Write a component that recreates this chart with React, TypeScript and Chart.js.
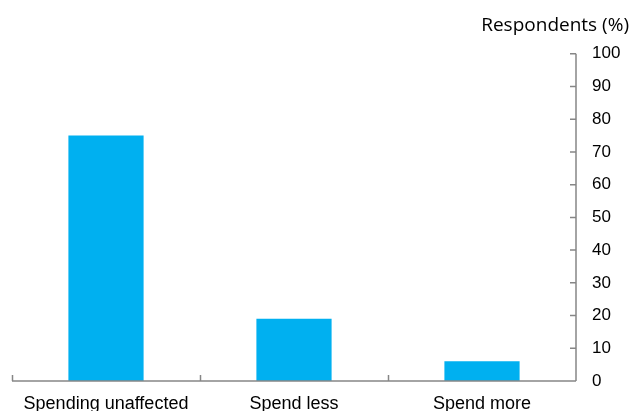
import React, { useEffect, useRef } from "react";
import { Chart, registerables } from "chart.js";

Chart.register(...registerables);

const categories = ["Spending unaffected", "Spend less", "Spend more"];
const respondents = [75, 19, 6];
const yTickValues = [0, 10, 20, 30, 40, 50, 60, 70, 80, 90, 100];

const AXIS_COLOR = "#868686";
const BAR_COLOR = "#00B0F0";

// Short tick marks on the inner side of both axes
const innerTicks = {
  id: "innerTicks",
  afterDatasetsDraw(chart: any) {
    const { ctx } = chart;
    const x = chart.scales.x;
    const y = chart.scales.y;
    ctx.save();
    ctx.strokeStyle = AXIS_COLOR;
    ctx.lineWidth = 1.5;
    ctx.beginPath();
    // x axis
    ctx.moveTo(x.left, y.bottom);
    ctx.lineTo(x.right, y.bottom);
    const step = x.getPixelForValue(1) - x.getPixelForValue(0);
    for (let i = 0; i < categories.length; i++) {
      const px = Math.round(x.getPixelForValue(i) - step / 2) + 0.5;
      ctx.moveTo(px, y.bottom);
      ctx.lineTo(px, y.bottom - 6);
    }
    // y axis
    ctx.moveTo(x.right, y.bottom);
    ctx.lineTo(x.right, y.top);
    for (const v of yTickValues) {
      const py = y.getPixelForValue(v);
      ctx.moveTo(x.right, py);
      ctx.lineTo(x.right - 6, py);
    }
    ctx.stroke();
    ctx.restore();
  },
};

export default function App() {
  const ref = useRef<HTMLCanvasElement | null>(null);

  useEffect(() => {
    document.body.style.margin = "0";
    const chart = new Chart(ref.current as HTMLCanvasElement, {
      type: "bar",
      data: {
        labels: categories,
        datasets: [
          {
            data: respondents,
            backgroundColor: BAR_COLOR,
            categoryPercentage: 1,
            barPercentage: 0.4,
          },
        ],
      },
      options: {
        animation: false,
        responsive: false,
        layout: { padding: { left: 12, right: 0, top: 0, bottom: 0 } },
        plugins: {
          legend: { display: false },
          tooltip: { enabled: false },
          title: {
            display: true,
            text: "Respondents (%)",
            align: "end",
            color: "#000",
            font: { family: "'Open Sans', sans-serif", size: 19, weight: "normal", lineHeight: 1.2 },
            padding: { top: 14, bottom: 17 },
          },
        },
        scales: {
          x: {
            border: { display: false },
            grid: { display: false, drawTicks: false },
            afterFit(scale: any) {
              scale.height = 30;
            },
            ticks: {
              color: "#000",
              font: { family: "'Liberation Sans', Arial, sans-serif", size: 18 },
              padding: 12,
              maxRotation: 0,
            },
          },
          y: {
            position: "right",
            min: 0,
            max: 100,
            border: { display: false },
            grid: { display: false, drawTicks: false },
            afterFit(scale: any) {
              scale.width = 53;
            },
            afterBuildTicks(scale: any) {
              scale.ticks = yTickValues.map((v) => ({ value: v }));
            },
            ticks: {
              color: "#000",
              font: { family: "'Liberation Sans', Arial, sans-serif", size: 17 },
              padding: 16,
            },
          },
        },
      },
      plugins: [innerTicks],
    });
    return () => chart.destroy();
  }, []);

  return (
    <div style={{ width: 629, height: 411 }}>
      <canvas ref={ref} width={629} height={411} />
    </div>
  );
}
